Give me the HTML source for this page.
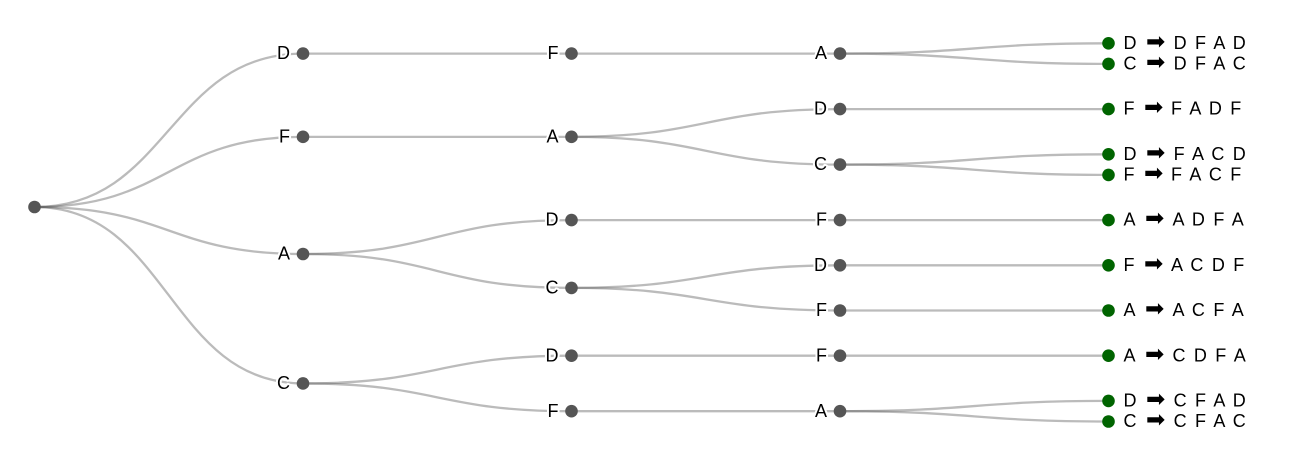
<!DOCTYPE html>
<html>
<head>
<meta charset="utf-8">
<style>
  html,body{margin:0;padding:0;background:#fff;}
  svg{display:block;}
  .link{fill:none;stroke:#555;stroke-opacity:0.4;stroke-width:2.3;}
  .n{fill:#555;}
  .leaf{fill:#006400;}
  text{font-family:"Liberation Sans",Arial,sans-serif;font-size:18px;fill:#000;}
  .lbl{text-anchor:end;stroke:#fff;stroke-width:4;stroke-linejoin:round;paint-order:stroke;}
  .arr{font-family:"DejaVu Sans",sans-serif;font-size:23px;}
  .seq{letter-spacing:1.7px;}
</style>
</head>
<body>
<svg width="1296" height="466" viewBox="0 0 1296 466" xmlns="http://www.w3.org/2000/svg">
  <!-- links: root -> depth1 -->
  <path class="link" d="M34.5,207C168.75,207 168.75,53.6 303,53.6"/>
  <path class="link" d="M34.5,207C168.75,207 168.75,136.85 303,136.85"/>
  <path class="link" d="M34.5,207C168.75,207 168.75,254 303,254"/>
  <path class="link" d="M34.5,207C168.75,207 168.75,383.45 303,383.45"/>
  <!-- depth1 -> depth2 -->
  <path class="link" d="M303,53.6C437.25,53.6 437.25,53.6 571.5,53.6"/>
  <path class="link" d="M303,136.85C437.25,136.85 437.25,136.85 571.5,136.85"/>
  <path class="link" d="M303,254C437.25,254 437.25,220.1 571.5,220.1"/>
  <path class="link" d="M303,254C437.25,254 437.25,287.9 571.5,287.9"/>
  <path class="link" d="M303,383.45C437.25,383.45 437.25,355.7 571.5,355.7"/>
  <path class="link" d="M303,383.45C437.25,383.45 437.25,411.2 571.5,411.2"/>
  <!-- depth2 -> depth3 -->
  <path class="link" d="M571.5,53.6C705.75,53.6 705.75,53.6 840,53.6"/>
  <path class="link" d="M571.5,136.85C705.75,136.85 705.75,109.1 840,109.1"/>
  <path class="link" d="M571.5,136.85C705.75,136.85 705.75,164.6 840,164.6"/>
  <path class="link" d="M571.5,220.1C705.75,220.1 705.75,220.1 840,220.1"/>
  <path class="link" d="M571.5,287.9C705.75,287.9 705.75,265.3 840,265.3"/>
  <path class="link" d="M571.5,287.9C705.75,287.9 705.75,310.5 840,310.5"/>
  <path class="link" d="M571.5,355.7C705.75,355.7 705.75,355.7 840,355.7"/>
  <path class="link" d="M571.5,411.2C705.75,411.2 705.75,411.2 840,411.2"/>
  <!-- depth3 -> leaves -->
  <path class="link" d="M840,53.6C974.25,53.6 974.25,43.3 1108.5,43.3"/>
  <path class="link" d="M840,53.6C974.25,53.6 974.25,63.9 1108.5,63.9"/>
  <path class="link" d="M840,109.1C974.25,109.1 974.25,109.1 1108.5,109.1"/>
  <path class="link" d="M840,164.6C974.25,164.6 974.25,154.3 1108.5,154.3"/>
  <path class="link" d="M840,164.6C974.25,164.6 974.25,174.9 1108.5,174.9"/>
  <path class="link" d="M840,220.1C974.25,220.1 974.25,220.1 1108.5,220.1"/>
  <path class="link" d="M840,265.3C974.25,265.3 974.25,265.3 1108.5,265.3"/>
  <path class="link" d="M840,310.5C974.25,310.5 974.25,310.5 1108.5,310.5"/>
  <path class="link" d="M840,355.7C974.25,355.7 974.25,355.7 1108.5,355.7"/>
  <path class="link" d="M840,411.2C974.25,411.2 974.25,400.9 1108.5,400.9"/>
  <path class="link" d="M840,411.2C974.25,411.2 974.25,421.5 1108.5,421.5"/>

  <!-- root -->
  <circle class="n" cx="34.5" cy="207" r="6.3"/>

  <!-- depth1 -->
  <circle class="n" cx="303" cy="53.6" r="6.3"/><text class="lbl" x="290" y="59.2">D</text>
  <circle class="n" cx="303" cy="136.85" r="6.3"/><text class="lbl" x="290" y="142.45">F</text>
  <circle class="n" cx="303" cy="254" r="6.3"/><text class="lbl" x="290" y="259.6">A</text>
  <circle class="n" cx="303" cy="383.45" r="6.3"/><text class="lbl" x="290" y="389.05">C</text>

  <!-- depth2 -->
  <circle class="n" cx="571.5" cy="53.6" r="6.3"/><text class="lbl" x="558.5" y="59.2">F</text>
  <circle class="n" cx="571.5" cy="136.85" r="6.3"/><text class="lbl" x="558.5" y="142.45">A</text>
  <circle class="n" cx="571.5" cy="220.1" r="6.3"/><text class="lbl" x="558.5" y="225.7">D</text>
  <circle class="n" cx="571.5" cy="287.9" r="6.3"/><text class="lbl" x="558.5" y="293.5">C</text>
  <circle class="n" cx="571.5" cy="355.7" r="6.3"/><text class="lbl" x="558.5" y="361.3">D</text>
  <circle class="n" cx="571.5" cy="411.2" r="6.3"/><text class="lbl" x="558.5" y="416.8">F</text>

  <!-- depth3 -->
  <circle class="n" cx="840" cy="53.6" r="6.3"/><text class="lbl" x="827" y="59.2">A</text>
  <circle class="n" cx="840" cy="109.1" r="6.3"/><text class="lbl" x="827" y="114.7">D</text>
  <circle class="n" cx="840" cy="164.6" r="6.3"/><text class="lbl" x="827" y="170.2">C</text>
  <circle class="n" cx="840" cy="220.1" r="6.3"/><text class="lbl" x="827" y="225.7">F</text>
  <circle class="n" cx="840" cy="265.3" r="6.3"/><text class="lbl" x="827" y="270.9">D</text>
  <circle class="n" cx="840" cy="310.5" r="6.3"/><text class="lbl" x="827" y="316.1">F</text>
  <circle class="n" cx="840" cy="355.7" r="6.3"/><text class="lbl" x="827" y="361.3">F</text>
  <circle class="n" cx="840" cy="411.2" r="6.3"/><text class="lbl" x="827" y="416.8">A</text>

  <!-- leaves -->
  <circle class="leaf" cx="1108.5" cy="43.3" r="6.3"/>
  <text x="1123.5" y="48.9">D<tspan class="arr" x="1146">➡</tspan><tspan class="seq" x="1173.6">D F A D</tspan></text>
  <circle class="leaf" cx="1108.5" cy="63.9" r="6.3"/>
  <text x="1123.5" y="69.5">C<tspan class="arr" x="1146">➡</tspan><tspan class="seq" x="1173.6">D F A C</tspan></text>
  <circle class="leaf" cx="1108.5" cy="109.1" r="6.3"/>
  <text x="1123.5" y="114.7">F<tspan class="arr" x="1144">➡</tspan><tspan class="seq" x="1171">F A D F</tspan></text>
  <circle class="leaf" cx="1108.5" cy="154.3" r="6.3"/>
  <text x="1123.5" y="159.9">D<tspan class="arr" x="1146">➡</tspan><tspan class="seq" x="1173.6">F A C D</tspan></text>
  <circle class="leaf" cx="1108.5" cy="174.9" r="6.3"/>
  <text x="1123.5" y="180.5">F<tspan class="arr" x="1144">➡</tspan><tspan class="seq" x="1171">F A C F</tspan></text>
  <circle class="leaf" cx="1108.5" cy="220.1" r="6.3"/>
  <text x="1123.5" y="225.7">A<tspan class="arr" x="1145">➡</tspan><tspan class="seq" x="1172.5">A D F A</tspan></text>
  <circle class="leaf" cx="1108.5" cy="265.3" r="6.3"/>
  <text x="1123.5" y="270.9">F<tspan class="arr" x="1144">➡</tspan><tspan class="seq" x="1171">A C D F</tspan></text>
  <circle class="leaf" cx="1108.5" cy="310.5" r="6.3"/>
  <text x="1123.5" y="316.1">A<tspan class="arr" x="1145">➡</tspan><tspan class="seq" x="1172.5">A C F A</tspan></text>
  <circle class="leaf" cx="1108.5" cy="355.7" r="6.3"/>
  <text x="1123.5" y="361.3">A<tspan class="arr" x="1145">➡</tspan><tspan class="seq" x="1172.5">C D F A</tspan></text>
  <circle class="leaf" cx="1108.5" cy="400.9" r="6.3"/>
  <text x="1123.5" y="406.5">D<tspan class="arr" x="1146">➡</tspan><tspan class="seq" x="1173.6">C F A D</tspan></text>
  <circle class="leaf" cx="1108.5" cy="421.5" r="6.3"/>
  <text x="1123.5" y="427.1">C<tspan class="arr" x="1146">➡</tspan><tspan class="seq" x="1173.6">C F A C</tspan></text>
</svg>
</body>
</html>
